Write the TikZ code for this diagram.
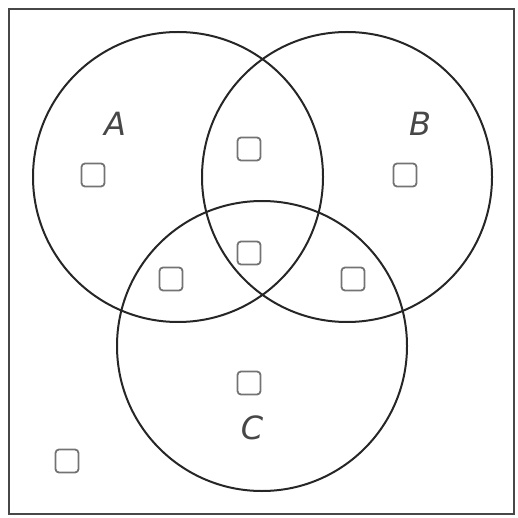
\documentclass[tikz,border=0pt]{standalone}
\usepackage{fontspec}
\setmainfont{DejaVu Sans}
\begin{document}
\begin{tikzpicture}[x=1pt,y=-1pt,
  setcircle/.style={circle,draw=black!85,line width=2pt,minimum size=290pt,inner sep=0pt},
  slot/.style={draw=black!55,line width=1.8pt,rounded corners=3.5pt,minimum size=23pt,inner sep=0pt},
  setlabel/.style={text=black!72,font=\fontsize{32}{32}\selectfont\itshape,inner sep=0pt}]
\useasboundingbox (0,0) rectangle (518,518);
\node[draw=black!72,line width=2pt,minimum width=505pt,minimum height=505pt,inner sep=0pt] (frame) at (261.5,261.5) {};
\node[setcircle] (A) at (178,177) {};
\node[setcircle] (B) at (347,177) {};
\node[setcircle] (C) at (262,346) {};
\node[setlabel] (la) at (115,124) {A};
\node[setlabel] (lb) at (420,124) {B};
\node[setlabel] (lc) at (252,428) {C};
\node[slot] (s1) at (93,175) {};
\node[slot] (s2) at (249,149) {};
\node[slot] (s3) at (405,175) {};
\node[slot] (s4) at (249,253) {};
\node[slot] (s5) at (171,279) {};
\node[slot] (s6) at (353,279) {};
\node[slot] (s7) at (249,383) {};
\node[slot] (s8) at (67,461) {};
\end{tikzpicture}
\end{document}
